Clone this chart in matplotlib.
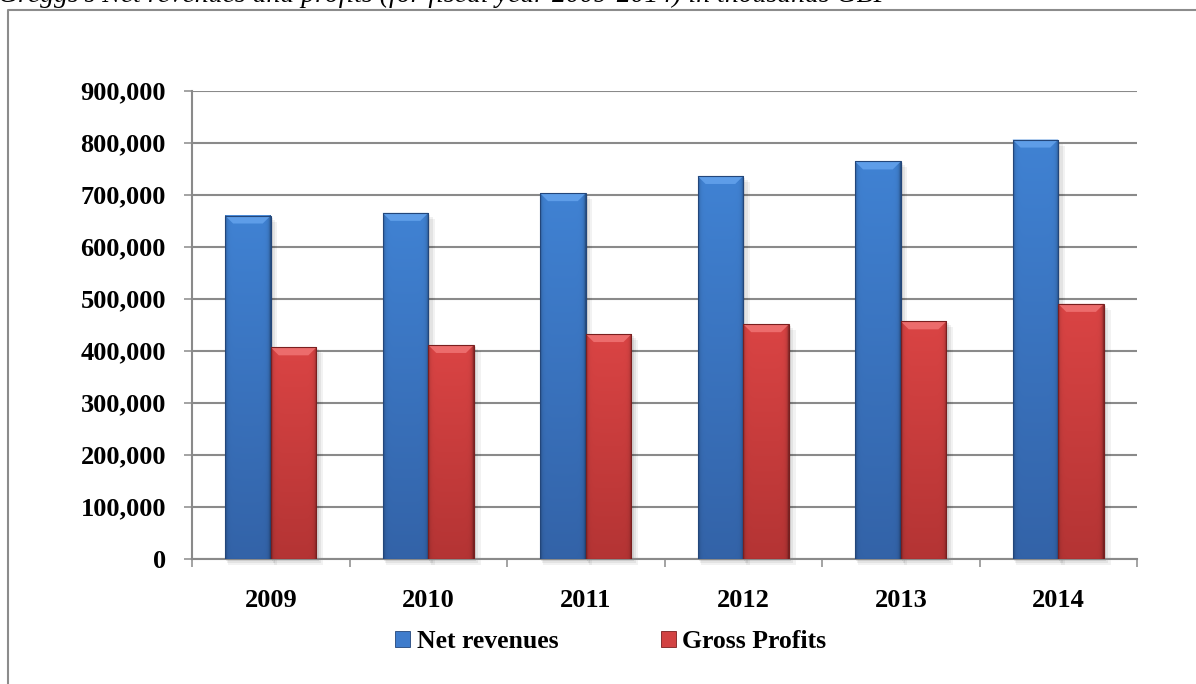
import numpy as np
import matplotlib
matplotlib.use("Agg")
import matplotlib.pyplot as plt
from matplotlib.patches import Polygon, Rectangle, Patch
from matplotlib.lines import Line2D
from matplotlib.ticker import FuncFormatter, MultipleLocator, FixedLocator

# Greggs: net revenues and gross profits, thousands GBP
years = ["2009", "2010", "2011", "2012", "2013", "2014"]
net_revenues = [660000, 665000, 703000, 736000, 764000, 806000]
gross_profits = [406500, 411000, 432000, 451000, 456500, 490000]
series_names = ["Net revenues", "Gross Profits"]

W, H = 1196, 684
SERIF = ["Liberation Serif", "DejaVu Serif"]
GRID = "#8a8a8a"

fig = plt.figure(figsize=(W / 100, H / 100), dpi=100)
fig.patch.set_facecolor("white")
ax = fig.add_axes([192 / W, 125.3 / H, 945 / W, 468 / H])

x = np.arange(len(years))
bw = 0.29
ymax = 900000

ax.set_xlim(-0.5, len(years) - 0.5)
ax.set_ylim(0, ymax)

# pixel -> data scale factors
px_x = (len(years)) / 945.0
px_y = ymax / 468.0

blue = dict(top=np.array([0x40, 0x82, 0xD3]) / 255, bot=np.array([0x33, 0x63, 0xA8]) / 255,
            bevel="#5e9de8", edge="#23467a")
red = dict(top=np.array([0xDA, 0x44, 0x44]) / 255, bot=np.array([0xB4, 0x34, 0x34]) / 255,
           bevel="#ec6c6c", edge="#7a1f1f")


def shade(rect, pal):
    x0, w, h = rect.get_x(), rect.get_width(), rect.get_height()
    nx, ny = 80, 120
    u = np.linspace(0, 1, nx)
    v = np.linspace(0, 1, ny)[:, None]
    col = pal["top"][None, None, :] * (1 - v[..., None]) + pal["bot"][None, None, :] * v[..., None]
    edge = 1 - 0.30 * np.exp(-u / 0.035) - 0.40 * np.exp(-(1 - u) / 0.035)
    img = np.clip(col * edge[None, :, None], 0, 1)
    im = ax.imshow(img, extent=(x0, x0 + w, 0, h), origin="upper", aspect="auto",
                   zorder=3, interpolation="bilinear")
    im.set_clip_path(rect)
    # soft shadow to the lower right
    for k, a in [(6, 0.05), (4, 0.06), (2, 0.08)]:
        ax.add_patch(Rectangle((x0 + k * px_x * 0.5, -k * px_y), w + k * px_x * 0.6, h,
                               facecolor="black", alpha=a, edgecolor="none", zorder=2,
                               clip_on=False))
    # bevelled top face
    dx, dy = 8 * px_x, 8 * px_y
    ax.add_patch(Polygon([(x0, h), (x0 + w, h), (x0 + w - dx, h - dy), (x0 + dx, h - dy)],
                         closed=True, facecolor=pal["bevel"], edgecolor="none", zorder=4))
    ax.add_patch(Rectangle((x0, 0), w, h, facecolor="none", edgecolor=pal["edge"],
                           linewidth=0.8, zorder=5))


bars_net = ax.bar(x - bw / 2, net_revenues, bw, color=blue["bot"], zorder=3)
bars_gp = ax.bar(x + bw / 2, gross_profits, bw, color=red["bot"], zorder=3)
for r in bars_net:
    shade(r, blue)
for r in bars_gp:
    shade(r, red)

ax.set_xlim(-0.5, len(years) - 0.5)
ax.set_ylim(0, ymax)

# axes, grid and ticks
for s in ["top", "right"]:
    ax.spines[s].set_visible(False)
for s in ["left", "bottom"]:
    ax.spines[s].set_color(GRID)
    ax.spines[s].set_linewidth(1.5)
ax.yaxis.set_major_locator(MultipleLocator(100000))
ax.yaxis.set_major_formatter(FuncFormatter(lambda v, p: f"{int(v):,}"))
ax.grid(axis="y", color=GRID, linewidth=1.5, zorder=1)
ax.set_axisbelow(True)

ax.xaxis.set_major_locator(FixedLocator(np.arange(-0.5, len(years), 1.0)))
ax.xaxis.set_major_formatter(FuncFormatter(lambda v, p: ""))
ax.xaxis.set_minor_locator(FixedLocator(x))
ax.set_xticks(x, labels=years, minor=True)

ax.tick_params(axis="y", direction="out", length=5.8, width=1.1, color=GRID, pad=13,
               labelsize=19)
ax.tick_params(axis="x", which="major", direction="out", length=5.8, width=1.1, color=GRID)
ax.tick_params(axis="x", which="minor", length=0, pad=22, labelsize=19)
for lab in ax.get_yticklabels() + ax.get_xticklabels(minor=True):
    lab.set_fontfamily(SERIF)
    lab.set_fontweight("bold")

# legend
handles = [Patch(facecolor="#3f7ccc", edgecolor="#23467a", linewidth=0.6),
           Patch(facecolor="#d24343", edgecolor="#7a1f1f", linewidth=0.6)]
fig.legend(handles, series_names, loc="center", bbox_to_anchor=(611 / W, 1 - 642 / H),
           ncol=2, frameon=False, handlelength=0.58, handleheight=0.58,
           handletextpad=0.25, columnspacing=4.0,
           prop=dict(family=SERIF, weight="bold", size=18.5))

# surrounding frame (clipped at right and bottom)
fig.add_artist(Line2D([8 / W, 8 / W, 1.02], [-0.02, 1 - 10 / H, 1 - 10 / H],
                      transform=fig.transFigure, color="#8c8c8c", linewidth=1.5))

# title line partly outside the top edge
fig.text(-2 / W, 1 - 2 / H,
         "Greggs's Net revenues and profits (for fiscal year 2009-2014) in thousands GBP",
         family=SERIF, style="italic", fontsize=20, va="baseline", ha="left")

fig.savefig("out.png", dpi=100)
